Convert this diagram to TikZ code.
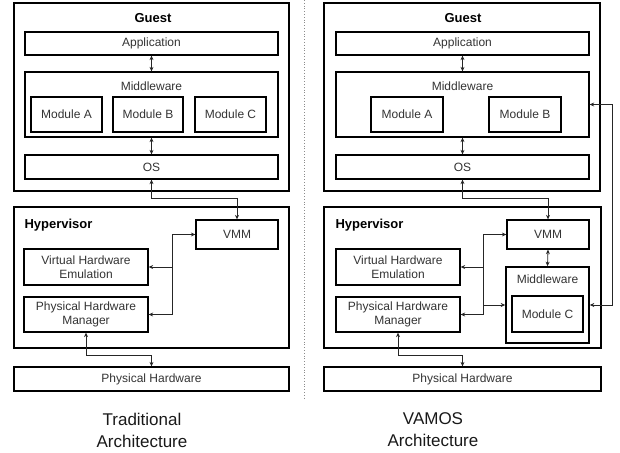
\documentclass[tikz,border=0pt]{standalone}
\usepackage{fontspec}
\setmainfont{Liberation Sans}
\usetikzlibrary{arrows.meta}
\tikzset{
    box/.style={draw, line width=1.3pt, inner sep=0pt, text=black!80, font=\fontsize{12}{14}\selectfont}, % every plain box
    module/.style={box, line width=1.6pt}, % the small module boxes
    outer/.style={draw, line width=1.6pt, inner sep=0pt}, % Guest and Hypervisor frames
    title/.style={font=\fontsize{13}{15}\selectfont\bfseries}, % Guest, Hypervisor
    caption/.style={align=center, text=black!90, font=\fontsize{17}{22}\selectfont}, % names below
    link/.style={line width=0.8pt, draw=black!85}, % connectors
    >={Stealth[length=4.5pt,width=4pt]}, % small filled arrow heads
}
\begin{document}
\begin{tikzpicture}[x=1pt, y=-1pt]
    \useasboundingbox (0,0) rectangle (620,452);
    % separator
    \draw[black!45, dotted, line width=0.8pt] (304,0) -- (304,398);

    % traditional architecture
    \node[outer, minimum width=275pt, minimum height=188pt] (guest) at (151.5,97) {};
    \node[title] (guestlbl) at (153,18) {Guest};
    \node[box, minimum width=253pt, minimum height=23pt] (app) at (151.5,43.5) {Application};
    \node[box, minimum width=253pt, minimum height=65pt] (mw) at (151.5,104.5) {};
    \node[box, anchor=north, draw=none, minimum height=0pt] (mwlbl) at (151.5,81) {Middleware};
    \node[module, minimum width=71pt, minimum height=35pt] (modA) at (66.5,114.5) {Module A};
    \node[module, minimum width=70pt, minimum height=35pt] (modB) at (148,114.5) {Module B};
    \node[module, minimum width=71pt, minimum height=35pt] (modC) at (230.5,114.5) {Module C};
    \node[box, minimum width=253pt, minimum height=24pt] (os) at (151.5,167) {OS};

    \node[outer, minimum width=275pt, minimum height=141pt] (hyp) at (151.5,277.5) {};
    \node[title, anchor=west] (hyplbl) at (21,225) {Hypervisor};
    \node[box, minimum width=82pt, minimum height=29pt] (vmm) at (237,234.5) {VMM};
    \node[box, align=center, minimum width=124pt, minimum height=36pt] (vhe) at (86,267) {Virtual Hardware\\Emulation};
    \node[box, align=center, minimum width=124pt, minimum height=35pt] (phm) at (86,314.5) {Physical Hardware\\Manager};
    \node[box, minimum width=275pt, minimum height=24pt] (phw) at (151.5,379) {Physical Hardware};

    \coordinate (lbus) at (172,0);
    \draw[link, <->] (app.south) -- (mw.north);
    \draw[link, <->] (mw.south) -- (os.north);
    \draw[link, <->] (os.south) |- (vmm.north |- 0,198) -- (vmm.north);
    \draw[link, ->] (lbus |- phm.east) |- (vmm.west);
    \draw[link, ->] (lbus |- vhe.east) -- (vhe.east);
    \draw[link, ->] (lbus |- phm.east) -- (phm.east);
    \draw[link, <->] (phm.south) |- (phw.north |- 0,355) -- (phw.north);

    \node[caption] (tradlbl) at (142,430) {Traditional\\Architecture};

    % VAMOS architecture
    \node[outer, minimum width=276pt, minimum height=188pt] (guest2) at (462,97) {};
    \node[title] (guestlbl2) at (463,18) {Guest};
    \node[box, minimum width=253pt, minimum height=23pt] (app2) at (462.5,43.5) {Application};
    \node[box, minimum width=253pt, minimum height=65pt] (mw2) at (462.5,104.5) {};
    \node[box, anchor=north, draw=none, minimum height=0pt] (mwlbl2) at (462.5,81) {Middleware};
    \node[module, minimum width=72pt, minimum height=35pt] (modA2) at (407,114.5) {Module A};
    \node[module, minimum width=72pt, minimum height=35pt] (modB2) at (525,114.5) {Module B};
    \node[box, minimum width=253pt, minimum height=24pt] (os2) at (462.5,167) {OS};

    \node[outer, minimum width=277pt, minimum height=141pt] (hyp2) at (462.5,277.5) {};
    \node[title, anchor=west] (hyplbl2) at (332,225) {Hypervisor};
    \node[box, minimum width=82pt, minimum height=29pt] (vmm2) at (548,234.5) {VMM};
    \node[box, align=center, minimum width=124pt, minimum height=36pt] (vhe2) at (398,267) {Virtual Hardware\\Emulation};
    \node[box, align=center, minimum width=124pt, minimum height=35pt] (phm2) at (398,314.5) {Physical Hardware\\Manager};
    \node[module, minimum width=83pt, minimum height=76pt] (hmw2) at (547.5,305) {};
    \node[box, anchor=north, draw=none, minimum height=0pt] (hmwlbl2) at (547.5,274) {Middleware};
    \node[module, minimum width=71pt, minimum height=36pt] (modC2) at (547.5,314) {Module C};
    \node[box, minimum width=277pt, minimum height=24pt] (phw2) at (462.5,379) {Physical Hardware};

    \coordinate (rbus) at (483,0);
    \coordinate (rloop) at (612,0);
    \draw[link, <->] (app2.south) -- (mw2.north);
    \draw[link, <->] (mw2.south) -- (os2.north);
    \draw[link, <->] (os2.south) |- (vmm2.north |- 0,198) -- (vmm2.north);
    \draw[link, <->] (vmm2.south) -- (hmw2.north);
    \draw[link, ->] (rbus |- phm2.east) |- (vmm2.west);
    \draw[link, ->] (rbus |- vhe2.east) -- (vhe2.east);
    \draw[link, ->] (rbus |- phm2.east) -- (phm2.east);
    \draw[link, ->] (rbus |- hmw2.west) -- (hmw2.west);
    \draw[link, <->] (mw2.east) -- (mw2.east -| rloop) |- (hmw2.east);
    \draw[link, <->] (phm2.south) |- (phw2.north |- 0,355) -- (phw2.north);

    \node[caption] (vamoslbl) at (433,430) {VAMOS\\Architecture};
\end{tikzpicture}
\end{document}
